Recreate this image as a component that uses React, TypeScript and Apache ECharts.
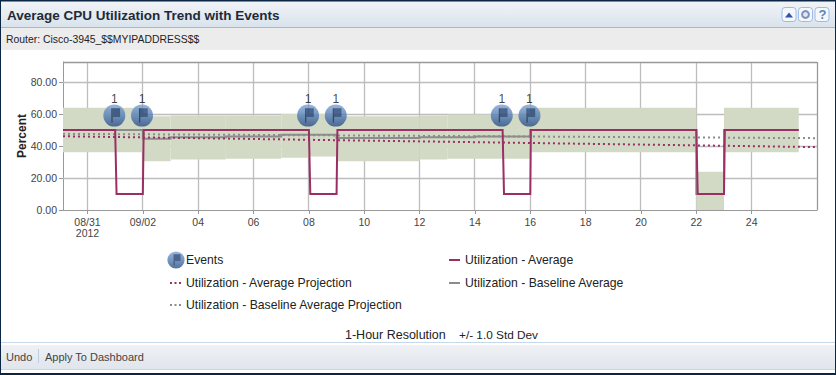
import React, { useEffect, useRef } from "react";
import * as echarts from "echarts";

const FONT = "Liberation Sans";

// days counted from 08/31/2012
const tickDays = [0, 2, 4, 6, 8, 10, 12, 14, 16, 18, 20, 22, 24];
const tickLabels = ["08/31\n2012", "09/02", "04", "06", "08", "10", "12", "14", "16", "18", "20", "22", "24"];
const yTicks = [0, 20, 40, 60, 80];
const xMin = -0.885;
const xMax = 26.36;
const yMax = 92.5;

const averageX = [-0.885, 1, 1.05, 2, 2.03, 8, 8.05, 9, 9.03, 15, 15.05, 16, 16.02, 22, 22.05, 23, 23.03, 25.7];
const averageY = [50, 50, 10, 10, 50, 50, 10, 10, 50, 50, 10, 10, 50, 50, 10, 10, 50, 50];

const baselineX = [-0.885, 2, 2, 3, 3, 5, 5, 7, 7, 9, 9, 12, 12, 14, 14, 16, 16, 22, 22, 23, 23, 25.7];
const baselineY = [50, 50, 44.5, 44.5, 45.5, 45.5, 46, 46, 47, 47, 45, 45, 45.5, 45.5, 46, 46, 50, 50, 10, 10, 50, 50];

const averageProjectionX = [-0.885, 26.36];
const averageProjectionY = [46.1, 39.3];
const baselineProjectionX = [-0.885, 26.36];
const baselineProjectionY = [47.6, 44.9];

const bandStart = [-0.885, 2, 3, 5, 7, 8, 9, 12, 13, 16, 22, 23];
const bandEnd = [2, 3, 5, 7, 8, 9, 12, 13, 16, 22, 23, 25.7];
const bandLower = [36.1, 30.5, 31.6, 32, 32.6, 33.4, 30.5, 31.6, 32, 36.1, 0, 36.1];
const bandUpper = [63.9, 58.6, 59, 59, 60, 60, 58.6, 59, 59.7, 63.9, 23.9, 63.9];

const eventDays = [1, 2, 8, 9, 15, 16];
const eventHeights = [59, 59, 59, 59, 59, 59];
const eventCounts = [1, 1, 1, 1, 1, 1];

const AVG = "#9b2f63";
const BASE = "#8c8c8c";
const BAND = "#d2dac6";
const GRID = "#bdbdbd";
const FRAME = "#999999";
const SOLID_ICON = "path://M0 0H11V2H0Z";
const DOT_ICON = "path://M0 0H2V2H0Z M4.5 0H6.5V2H4.5Z M9 0H11V2H9Z";

const flagSvg =
  '<svg xmlns="http://www.w3.org/2000/svg" width="46" height="46" viewBox="0 0 46 46">' +
  '<defs><linearGradient id="g" x1="0" y1="0" x2="0" y2="1">' +
  '<stop offset="0" stop-color="#7ea3d3"/><stop offset="0.55" stop-color="#5079b2"/><stop offset="1" stop-color="#2a4d85"/>' +
  "</linearGradient></defs>" +
  '<circle cx="23" cy="23" r="22" fill="url(#g)"/>' +
  '<rect x="17" y="8.5" width="2.6" height="28.5" fill="#14233f"/>' +
  '<polygon points="19,8.5 34.5,8.5 34.5,26 19,26" fill="#1f3f74"/>' +
  "</svg>";
const flagIcon = "image://data:image/svg+xml;charset=utf-8," + encodeURIComponent(flagSvg);

const zip = (xs: number[], ys: number[]) => xs.map((x, i) => [x, ys[i]]);

const lineSeries = (name: string, xs: number[], ys: number[], color: string, type: any, z: number) => ({
  name,
  type: "line",
  data: zip(xs, ys),
  showSymbol: false,
  symbol: "none",
  z,
  lineStyle: { color, width: 2, type, join: "miter" },
  itemStyle: { color },
});

const legendItem = (name: string, icon: string, left: number, top: number, extra: any = {}) => ({
  data: [name],
  icon,
  left,
  top,
  padding: 0,
  itemWidth: 11,
  itemHeight: 2,
  selectedMode: false,
  textStyle: { fontFamily: FONT, fontSize: 12.2, color: "#222" },
  ...extra,
});

const grad = (a: string, b: string) =>
  new echarts.graphic.LinearGradient(0, 0, 0, 1, [
    { offset: 0, color: a },
    { offset: 1, color: b },
  ]);

const label = (text: string, x: number, y: number, fontSize = 12, fill = "#222") => ({
  type: "text",
  x,
  y,
  silent: true,
  style: { text, fontFamily: FONT, fontSize, fill, textVerticalAlign: "middle" },
});

const button = (x: number) => ({
  type: "rect",
  shape: { x, y: 7.5, width: 14, height: 14, r: 3 },
  style: { fill: "#f4f7fb", stroke: "#9dbbe8", lineWidth: 1 },
  silent: true,
});

const crisp = (v: number) => Math.round(v - 0.5) + 0.5;

// grid rules: [isVertical, value, isFrame]
const gridRules = [
  ...tickDays.map((d) => [1, d, 0]),
  ...yTicks.filter((v) => v > 0).map((v) => [0, v, 0]),
  [1, xMax, 1],
  [0, yMax, 1],
];

export default function App() {
  const ref = useRef<HTMLDivElement>(null);
  useEffect(() => {
    document.body.style.margin = "0";
    const chart = echarts.init(ref.current!, undefined, { renderer: "svg" });
    chart.setOption({
      animation: false,
      title: {
        text: "Average CPU Utilization Trend with Events",
        left: 7,
        top: 8,
        padding: 0,
        textStyle: { fontFamily: FONT, fontSize: 13.5, fontWeight: "bold", color: "#1e2a38" },
      },
      graphic: [
        { type: "rect", z: -10, silent: true, shape: { x: 0, y: 1, width: 836, height: 26 }, style: { fill: grad("#f2f4f7", "#d9e3ec") } },
        { type: "rect", z: -10, silent: true, shape: { x: 0, y: 27, width: 836, height: 1 }, style: { fill: "#a9b8c6" } },
        { type: "rect", z: -10, silent: true, shape: { x: 0, y: 28, width: 836, height: 22 }, style: { fill: "#ececec" } },
        { type: "rect", z: -10, silent: true, shape: { x: 0, y: 342, width: 836, height: 1 }, style: { fill: "#c5d9ea" } },
        { type: "rect", z: -10, silent: true, shape: { x: 0, y: 345, width: 836, height: 25 }, style: { fill: grad("#eff1f4", "#e0e5ec") } },
        { type: "rect", z: -10, silent: true, shape: { x: 0, y: 369, width: 836, height: 1 }, style: { fill: "#c5d9ea" } },
        { type: "rect", z: 5, silent: true, shape: { x: 0, y: 0, width: 836, height: 1.5 }, style: { fill: "#0b2545" } },
        { type: "rect", z: 5, silent: true, shape: { x: 0, y: 373, width: 836, height: 2 }, style: { fill: "#0b2545" } },
        { type: "rect", z: 5, silent: true, shape: { x: 0, y: 0, width: 1, height: 375 }, style: { fill: "#0b2545" } },
        { type: "rect", z: 5, silent: true, shape: { x: 835, y: 0, width: 1, height: 375 }, style: { fill: "#0b2545" } },
        { type: "rect", z: 5, silent: true, shape: { x: 38, y: 349, width: 1, height: 14 }, style: { fill: "#b9cfe4" } },
        button(782),
        button(798.5),
        button(815),
        { type: "polygon", silent: true, shape: { points: [[785, 17.5], [793, 17.5], [789, 12.5]] }, style: { fill: "#2d55a8" } },
        { type: "circle", silent: true, shape: { cx: 805.5, cy: 14.5, r: 3.4 }, style: { fill: "#dfe6f4", stroke: "#7f8fc0", lineWidth: 2 } },
        { type: "text", silent: true, x: 818.5, y: 8, style: { text: "?", fontFamily: FONT, fontSize: 13, fontWeight: "bold", fill: "#5c86b8" } },
        label("Router: Cisco-3945_$$MYIPADDRESS$$", 6, 39.5, 10.4),
        label("1-Hour Resolution", 345, 334.5, 12.5),
        label("+/- 1.0 Std Dev", 459, 334.5, 11.8),
        label("Undo", 6, 356.5, 11, "#444"),
        label("Apply To Dashboard", 45, 356.5, 11, "#444"),
      ],
      legend: [
        legendItem("Events", flagIcon, 167, 251, { itemWidth: 18, itemHeight: 18, textStyle: { fontFamily: FONT, fontSize: 12.2, color: "#222", padding: [0, 0, 0, -4] } }),
        legendItem("Utilization - Average", SOLID_ICON, 449, 254),
        legendItem("Utilization - Average Projection", DOT_ICON, 170, 277),
        legendItem("Utilization - Baseline Average", SOLID_ICON, 449, 277),
        legendItem("Utilization - Baseline Average Projection", DOT_ICON, 170, 299),
      ],
      grid: { left: 63, top: 62, width: 754, height: 148, outerBoundsMode: "none" },
      xAxis: {
        type: "value",
        min: xMin,
        max: xMax,
        axisLine: { show: true, onZero: false, lineStyle: { color: FRAME } },
        axisTick: { show: true, length: 4, lineStyle: { color: FRAME }, customValues: tickDays },
        axisLabel: {
          customValues: tickDays,
          fontFamily: FONT,
          fontSize: 10.5,
          color: "#444",
          margin: 6,
          lineHeight: 11,
          formatter: (v: number) => tickLabels[tickDays.indexOf(v)] ?? "",
        },
        splitLine: { show: false },
      },
      yAxis: {
        type: "value",
        min: 0,
        max: yMax,
        name: "Percent",
        nameLocation: "middle",
        nameGap: 35,
        nameMoveOverlap: false,
        nameTextStyle: { fontFamily: FONT, fontSize: 12, fontWeight: "bold", color: "#222" },
        axisLine: { show: true, onZero: false, lineStyle: { color: FRAME } },
        axisTick: { show: true, length: 4, lineStyle: { color: FRAME }, customValues: yTicks },
        axisLabel: {
          customValues: yTicks,
          fontFamily: FONT,
          fontSize: 10.5,
          color: "#444",
          margin: 6,
          formatter: (v: number) => v.toFixed(2),
        },
        splitLine: { show: false },
      },
      series: [
        {
          name: "Grid",
          type: "custom",
          z: 1,
          silent: true,
          clip: false,
          encode: { x: 1 },
          data: gridRules,
          renderItem: (_p: any, api: any) => {
            const vertical = api.value(0) === 1;
            const v = api.value(1);
            const a = api.coord(vertical ? [v, 0] : [xMin, v]);
            const b = api.coord(vertical ? [v, yMax] : [xMax, v]);
            return {
              type: "line",
              shape: vertical
                ? { x1: crisp(a[0]), y1: a[1], x2: crisp(a[0]), y2: b[1] }
                : { x1: a[0], y1: crisp(a[1]), x2: b[0], y2: crisp(a[1]) },
              style: { stroke: api.value(2) === 1 ? FRAME : GRID, lineWidth: 1.3, fill: null },
            };
          },
        },
        {
          name: "Band",
          type: "custom",
          z: 2,
          silent: true,
          encode: { x: [0, 1], y: [2, 3] },
          data: bandStart.map((s, i) => [s, bandEnd[i], bandLower[i], bandUpper[i]]),
          renderItem: (_p: any, api: any) => {
            const a = api.coord([api.value(0), api.value(3)]);
            const b = api.coord([api.value(1), api.value(2)]);
            return {
              type: "rect",
              shape: { x: a[0], y: a[1], width: b[0] - a[0], height: b[1] - a[1] },
              style: { fill: BAND },
            };
          },
        },
        lineSeries("Utilization - Baseline Average", baselineX, baselineY, BASE, "solid", 3),
        lineSeries("Utilization - Baseline Average Projection", baselineProjectionX, baselineProjectionY, BASE, [2, 3], 4),
        lineSeries("Utilization - Average Projection", averageProjectionX, averageProjectionY, AVG, [2, 3], 4),
        lineSeries("Utilization - Average", averageX, averageY, AVG, "solid", 5),
        {
          name: "Events",
          type: "scatter",
          z: 6,
          symbol: flagIcon,
          symbolSize: 23,
          data: eventDays.map((d, i) => [d - 0.03, eventHeights[i], eventCounts[i]]),
          label: {
            show: true,
            position: "top",
            distance: -1,
            fontFamily: FONT,
            fontSize: 12,
            color: "#111",
            formatter: (p: any) => String(p.value[2]),
          },
        },
      ],
    });
    return () => chart.dispose();
  }, []);
  return <div ref={ref} style={{ width: 836, height: 375 }} />;
}
